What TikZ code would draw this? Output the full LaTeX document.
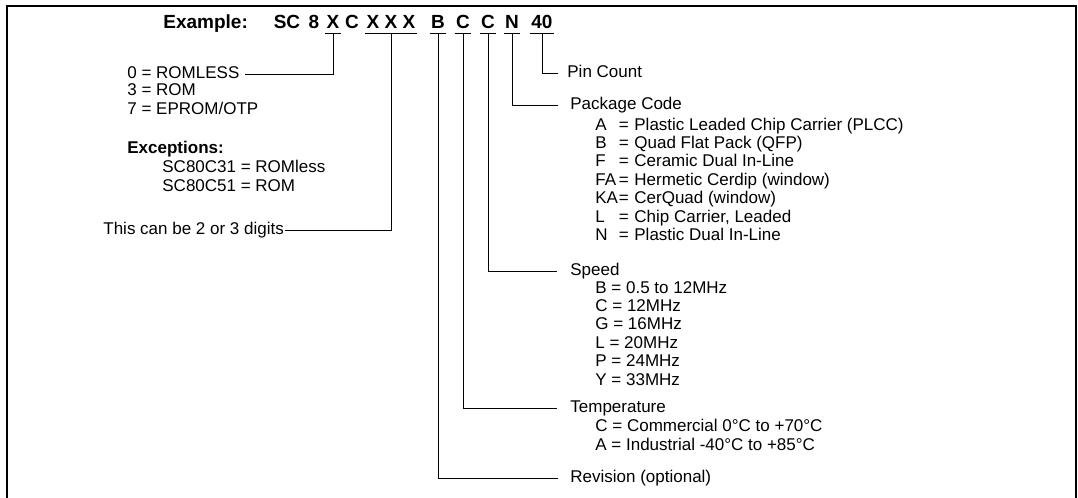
\documentclass[tikz,border=0pt]{standalone}
\usepackage{fontspec}
\setmainfont{Liberation Sans}
\usetikzlibrary{positioning}
\newcommand\titlefont{\fontsize{9.5}{11}\selectfont\bfseries}
\newcommand\bodyfont{\fontsize{8.5}{10}\selectfont}

\tikzset{
  txt/.style={anchor=west, inner sep=0pt, font=\bodyfont, text height=6pt, text depth=2pt},
  code/.style={font=\titlefont, inner xsep=0.5pt, inner ysep=0pt, text height=6.8pt, text depth=2.5pt},
  lead/.style={line width=0.5pt},
}

\begin{document}
\begin{tikzpicture}[x=0.5pt, y=-0.5pt]
\useasboundingbox (0,0) rectangle (1078,498);
% frame, open at the bottom
\draw[line width=0.8pt] (7,498) -- (7,6) -- (1076,6) -- (1076,498);

% part number
\node[code, anchor=west] (ex) at (162,23.7) {Example:};
\node[code] (sc) at (287,23.7) {SC};
\node[code] (p8) at (314,23.7) {8};
\node[code] (pX) at (333,23.7) {X};
\node[code] (pC) at (352,23.7) {C};
\node[code] (pXXX) at (391,23.7) {X X X};
\node[code] (pB) at (438,23.7) {B};
\node[code] (pT) at (463,23.7) {C};
\node[code] (pS) at (488,23.7) {C};
\node[code] (pN) at (512,23.7) {N};
\node[code] (p40) at (542,23.7) {40};
\foreach \p in {pX,pXXX,pB,pT,pS,pN,p40}
  \draw[lead] (\p.south west) -- (\p.south east);

% left side
\node[txt] (romless) at (127,74) {0 = ROMLESS};
\node[txt] (rom) at (127,92) {3 = ROM};
\node[txt] (eprom) at (127,110) {7 = EPROM/OTP};
\node[txt, font=\bodyfont\bfseries] (exc) at (127,149) {Exceptions:};
\node[txt] (c31) at (162,168) {SC80C31 = ROMless};
\node[txt] (c51) at (162,187) {SC80C51 = ROM};
\node[txt] (digits) at (103,230) {This can be 2 or 3 digits};

% right side
\node[txt] (pins) at (567,73) {Pin Count};
\node[txt] (pkg) at (570,105) {Package Code};
\foreach \k/\d [count=\i] in {A/Plastic Leaded Chip Carrier (PLCC), B/Quad Flat Pack (QFP),
    F/Ceramic Dual In-Line, FA/Hermetic Cerdip (window), KA/CerQuad (window),
    L/{Chip Carrier, Leaded}, N/Plastic Dual In-Line}{
  \node[txt] (pk\i) at (595,{107.6+18.4*\i}) {\k};
  \node[txt] (pq\i) at (618.5,{107.6+18.4*\i}) {=};
  \node[txt] (pd\i) at (634,{107.6+18.4*\i}) {\d};
}
\node[txt] (speed) at (570,271) {Speed};
\foreach \lbl [count=\i] in {B = 0.5 to 12MHz, C = 12MHz, G = 16MHz, L = 20MHz, P = 24MHz, Y = 33MHz}
  \node[txt] (sp\i) at (595,{270.6+18.4*\i}) {\lbl};
\node[txt] (temp) at (570,408) {Temperature};
\foreach \lbl [count=\i] in {C = Commercial 0°C to +70°C, A = Industrial -40°C to +85°C}
  \node[txt] (tp\i) at (595,{408+19*\i}) {\lbl};
\node[txt] (rev) at (570,478) {Revision (optional)};

% leads
\draw[lead] (pX.south) |- ([xshift=2.5pt]romless.east);
\draw[lead] (pXXX.south) |- ([xshift=0.5pt]digits.east);
\draw[lead] (p40.south) |- ([xshift=-4.5pt]pins.west);
\draw[lead] (pN.south) |- ([xshift=-6pt]pkg.west);
\draw[lead] (pS.south) |- ([xshift=-6.5pt]speed.west);
\draw[lead] (pT.south) |- ([xshift=-6.5pt]temp.west);
\draw[lead] (pB.south) |- ([xshift=-6pt]rev.west);
\end{tikzpicture}
\end{document}
